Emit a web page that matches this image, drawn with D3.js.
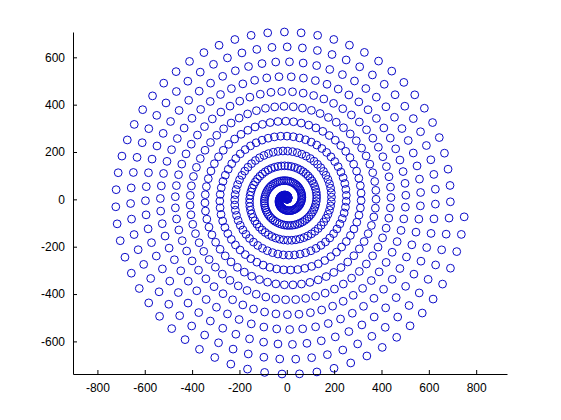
<!DOCTYPE html>
<html>
<head>
<meta charset="utf-8">
<script src="https://cdn.jsdelivr.net/npm/d3@7"></script>
<style>
  html, body { margin: 0; padding: 0; background: #fff; }
  text { font-family: "Liberation Sans", Arial, sans-serif; }
</style>
</head>
<body>
<div id="plot"></div>
<script>
// tick labels as printed on the axes
const xTicks = [-800, -600, -400, -200, 0, 200, 400, 600, 800]
const yTicks = [-600, -400, -200, 0, 200, 400, 600]

// spiral: ring gap ~63 units (10 per radian),
// ~63 markers per turn (one every 0.1 rad), last marker near (750, -74)
const markerCount = 754
const markerStep = 0.1
const radiusPerRad = 10
const angles = d3.range(markerCount).map(i => i * markerStep)
const xs = angles.map(t => radiusPerRad * t * Math.cos(t))
const ys = angles.map(t => radiusPerRad * t * Math.sin(t))

const drawSpiral = function(sel) {
  // MATLAB default axes box inside a 560x420 figure
  const margin = {top: 32, left: 73},
      width = 434,
      height = 342

  const svg = d3.select(sel)
    .append("svg")
      .attr("width", 561)
      .attr("height", 420)

  const g = svg.append("g")
      .attr("transform", `translate(${margin.left},${margin.top})`)

  // axis image: y limits hug the data, x limits widened for equal units
  const yExt = d3.extent(ys)
  const xExt = d3.extent(xs)
  const perPx = (yExt[1] - yExt[0]) / height
  const xMid = (xExt[0] + xExt[1]) / 2
  const x = d3.scaleLinear()
    .domain([xMid - perPx * width / 2, xMid + perPx * width / 2])
    .range([0, width])
  const y = d3.scaleLinear()
    .domain(yExt)
    .range([height, 0])

  // markers
  g.selectAll("circle.pt")
    .data(angles)
    .enter()
    .append("circle")
      .attr("class", "pt")
      .attr("cx", (d, i) => x(xs[i]))
      .attr("cy", (d, i) => y(ys[i]))
      .attr("r", 3.9)
      .attr("fill", "none")
      .attr("stroke", "#0a0ac8")
      .attr("stroke-width", 1)

  // axes, ticks pointing inwards
  const xAxis = g.append("g")
    .attr("transform", `translate(0,${height})`)
    .call(d3.axisBottom(x).tickValues(xTicks).tickSizeInner(-4).tickSizeOuter(0).tickPadding(9))
  const yAxis = g.append("g")
    .call(d3.axisLeft(y).tickValues(yTicks).tickSizeInner(-4).tickSizeOuter(0).tickPadding(8))

  for (const a of [xAxis, yAxis]) {
    a.selectAll("text").style("font-size", "12px").attr("fill", "#000")
    a.selectAll("line").attr("stroke", "#000")
    a.select(".domain").attr("stroke", "#000")
  }
  // keep minus signs as plain hyphens like the original
  xAxis.selectAll("text").text(d => String(d))
  yAxis.selectAll("text").text(d => String(d))
}

drawSpiral('#plot')
</script>
</body>
</html>
